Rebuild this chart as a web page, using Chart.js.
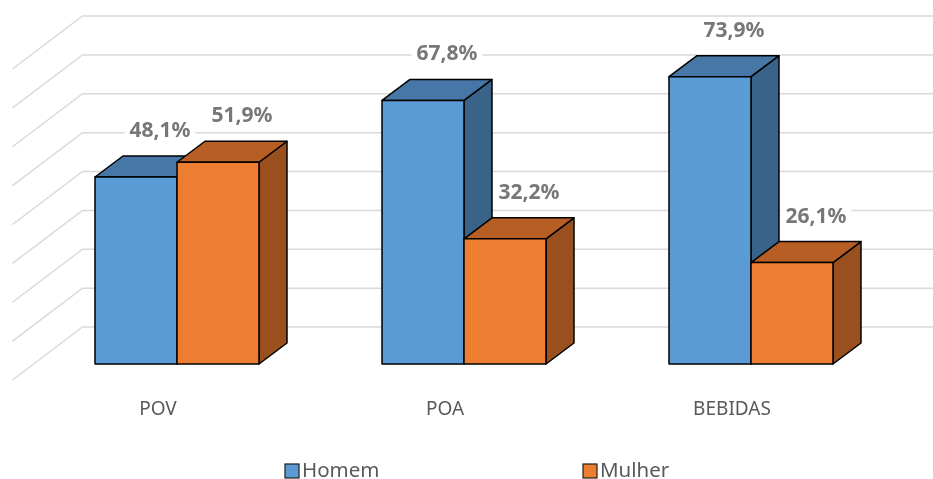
<!DOCTYPE html>
<html>
<head>
<meta charset="utf-8">
<script src="https://cdn.jsdelivr.net/npm/chart.js@4.4.1/dist/chart.umd.min.js"></script>
<style>
  html, body { margin: 0; padding: 0; background: #fff; }
  #wrap { width: 933px; height: 479px; }
</style>
</head>
<body>
<div id="wrap"><canvas id="chart"></canvas></div>
<script>
const categories = ["POV", "POA", "BEBIDAS"];
const homem = [48.1, 67.8, 73.9];
const mulher = [51.9, 32.2, 26.1];
const seriesNames = ["Homem", "Mulher"];
const gridValues = [0, 10, 20, 30, 40, 50, 60, 70, 80];

// front / top / side shades of each series
const faceColors = [
    { front: "#5B9BD5", top: "#4677A6", side: "#3A6389" },
    { front: "#ED7D31", top: "#B65E23", side: "#9A501E" }
];
const DX = 28, DY = -21;   // bar depth
const WX = 49, WY = -37;   // back wall offset

function poly(ctx, pts, fill) {
    ctx.beginPath();
    ctx.moveTo(pts[0][0], pts[0][1]);
    for (let i = 1; i < pts.length; i++) ctx.lineTo(pts[i][0], pts[i][1]);
    ctx.closePath();
    ctx.fillStyle = fill;
    ctx.fill();
    ctx.stroke();
}

const box3d = {
    id: "box3d",
    beforeDatasetsDraw(chart) {
        const { ctx, chartArea, scales: { y } } = chart;
        ctx.save();
        ctx.strokeStyle = "#d9d9d9";
        ctx.lineWidth = 1.5;
        gridValues.forEach(v => {
            const yb = y.getPixelForValue(v) + WY;
            const xb = chartArea.left + WX;
            ctx.beginPath();
            ctx.moveTo(chartArea.left - 21, yb + 53);
            ctx.lineTo(xb, yb);
            ctx.lineTo(chart.width, yb);
            ctx.stroke();
        });
        ctx.restore();
    },
    afterDatasetsDraw(chart) {
        const ctx = chart.ctx;
        const metas = [chart.getDatasetMeta(0), chart.getDatasetMeta(1)];
        ctx.save();
        ctx.lineWidth = 1.5;
        ctx.strokeStyle = "#000";
        ctx.lineJoin = "round";
        categories.forEach((c, i) => {
            metas.forEach((meta, d) => {
                const bar = meta.data[i];
                const l = bar.x - bar.width / 2, r = bar.x + bar.width / 2;
                const t = bar.y, b = bar.base;
                const col = faceColors[d];
                poly(ctx, [[r, t], [r + DX, t + DY], [r + DX, b + DY], [r, b]], col.side);
                poly(ctx, [[l, t], [l + DX, t + DY], [r + DX, t + DY], [r, t]], col.top);
                poly(ctx, [[l, t], [r, t], [r, b], [l, b]], col.front);
            });
        });

        // value labels
        ctx.font = "bold 21px 'Noto Sans'";
        ctx.textAlign = "center";
        ctx.textBaseline = "middle";
        metas.forEach((meta, d) => {
            meta.data.forEach((bar, i) => {
                const v = chart.data.datasets[d].data[i];
                const txt = v.toFixed(1).replace(".", ",") + "%";
                const x = bar.x + 24, y = bar.y + DY - 25;
                const w = ctx.measureText(txt).width + 10;
                ctx.fillStyle = "#fff";
                ctx.fillRect(x - w / 2, y - 13, w, 26);
                ctx.fillStyle = "#777777";
                ctx.fillText(txt, x, y);
            });
        });

        // category labels on the floor edge
        const xs = chart.scales.x;
        ctx.font = "19px 'Noto Sans'";
        ctx.fillStyle = "#595959";
        categories.forEach((c, i) => {
            ctx.fillText(c, xs.getPixelForValue(i) - 19, chart.chartArea.bottom + 46);
        });
        ctx.restore();
    },
    afterDraw(chart) {
        const ctx = chart.ctx;
        ctx.save();
        ctx.font = "20.5px 'Noto Sans'";
        ctx.textBaseline = "middle";
        ctx.textAlign = "left";
        let x = 285;
        const y = 471;
        chart.data.datasets.forEach((ds, d) => {
            ctx.fillStyle = faceColors[d].front;
            ctx.strokeStyle = "#1f1f1f";
            ctx.lineWidth = 1.2;
            ctx.fillRect(x, y - 7, 14, 14);
            ctx.strokeRect(x, y - 7, 14, 14);
            ctx.fillStyle = "#595959";
            ctx.fillText(ds.label, x + 17, y);
            x += 298;
        });
        ctx.restore();
    }
};

new Chart(document.getElementById("chart"), {
    type: "bar",
    data: {
        labels: categories,
        datasets: [
            { label: seriesNames[0], data: homem, backgroundColor: faceColors[0].front,
              borderColor: "#000", borderWidth: 1.5 },
            { label: seriesNames[1], data: mulher, backgroundColor: faceColors[1].front,
              borderColor: "#000", borderWidth: 1.5 }
        ]
    },
    options: {
        responsive: true,
        maintainAspectRatio: false,
        animation: false,
        layout: { padding: { left: 33.5, right: 38.5, top: 53, bottom: 115 } },
        datasets: { bar: { categoryPercentage: 0.5714, barPercentage: 1 } },
        scales: {
            x: { display: false },
            y: { display: false, min: 0, max: 80 }
        },
        plugins: {
            legend: { display: false },
            tooltip: { enabled: false }
        }
    },
    plugins: [box3d]
});
</script>
</body>
</html>
